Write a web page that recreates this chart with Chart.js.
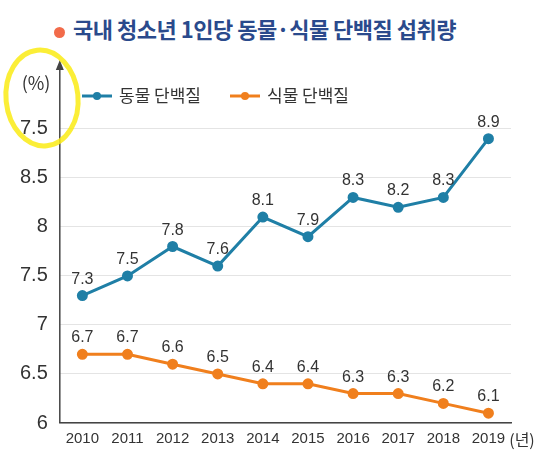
<!DOCTYPE html>
<html><head><meta charset="utf-8">
<script src="https://cdn.jsdelivr.net/npm/chart.js@4/dist/chart.umd.min.js"></script>
<style>
body{margin:0;background:#fff;font-family:"Noto Sans CJK KR",sans-serif}
#wrap{position:relative;width:547px;height:460px}
#title{position:absolute;left:54px;top:12px;font-size:22px;font-weight:bold;color:#2a4a8c;letter-spacing:-0.5px}
#title span{display:inline-block;width:11px;height:11px;border-radius:50%;background:#f26b4a;margin-right:8px;vertical-align:middle}
</style></head>
<body><div id="wrap">
<div id="title"><span></span>국내 청소년 1인당 동물·식물 단백질 섭취량</div>
<canvas id="c" width="547" height="460" style="position:absolute;left:0;top:0"></canvas>
</div>
<script>
// DATA
let years = ['2010','2011','2012','2013','2014','2015','2016','2017','2018','2019'];
let animalProtein = [7.3, 7.5, 7.8, 7.6, 8.1, 7.9, 8.3, 8.2, 8.3, 8.9];
let plantProtein = [6.7, 6.7, 6.6, 6.5, 6.4, 6.4, 6.3, 6.3, 6.2, 6.1];
let yTicks = [6, 6.5, 7, 7.5, 8, 8.5, 9];
let yTickLabels = {6:'6', 6.5:'6.5', 7:'7', 7.5:'7.5', 8:'8', 8.5:'8.5', 9:'7.5'};

let blue = '#1f7fa6', orange = '#f07f1d';

let extras = {
    id: 'extras',
    afterDraw(chart) {
        let ctx = chart.ctx;
        let ax = chart.chartArea.left;
        ctx.save();
        // axis arrow
        ctx.strokeStyle = '#444'; ctx.lineWidth = 1.5;
        ctx.beginPath(); ctx.moveTo(ax, chart.chartArea.bottom); ctx.lineTo(ax, 66); ctx.stroke();
        ctx.fillStyle = '#444';
        ctx.beginPath(); ctx.moveTo(ax, 60); ctx.lineTo(ax - 4, 70); ctx.lineTo(ax + 4, 70); ctx.fill();
        ctx.font = '18px "Noto Sans CJK KR"'; ctx.fillStyle = '#333'; ctx.textAlign = 'center';
        ctx.fillText('(%)', 36, 90);
        ctx.font = '16px "Noto Sans CJK KR"';
        ctx.fillText('(년)', 522, 446);
        // legend
        chart.data.datasets.forEach((ds, i) => {
            let lx = 82 + i * 148, ly = 96;
            ctx.strokeStyle = ds.borderColor; ctx.lineWidth = 3;
            ctx.beginPath(); ctx.moveTo(lx, ly); ctx.lineTo(lx + 30, ly); ctx.stroke();
            ctx.fillStyle = ds.borderColor;
            ctx.beginPath(); ctx.arc(lx + 15, ly, 4, 0, Math.PI * 2); ctx.fill();
            ctx.fillStyle = '#333'; ctx.textAlign = 'left'; ctx.textBaseline = 'middle';
            ctx.font = '17px "Noto Sans CJK KR"';
            ctx.fillText(ds.label, lx + 37, ly);
        });
        // value labels
        ctx.textAlign = 'center'; ctx.textBaseline = 'alphabetic';
        ctx.font = '16px "Liberation Sans Narrow", "Liberation Sans"';
        ctx.fillStyle = '#333';
        chart.data.datasets.forEach((ds, di) => {
            chart.getDatasetMeta(di).data.forEach((p, i) => {
                ctx.fillText(ds.data[i].toFixed(1), p.x, p.y - 12);
            });
        });
        // highlighter circle
        ctx.strokeStyle = 'rgba(250,235,20,0.85)'; ctx.lineWidth = 5;
        ctx.beginPath(); ctx.ellipse(42, 98, 36, 48, -0.1, 0, Math.PI * 2); ctx.stroke();
        ctx.restore();
    }
};

new Chart(document.getElementById('c').getContext('2d'), {
    type: 'line',
    data: {
        labels: years,
        datasets: [{
            label: '동물 단백질', data: animalProtein,
            borderColor: blue, backgroundColor: blue, borderWidth: 3,
            pointRadius: 4, pointHoverRadius: 4
        }, {
            label: '식물 단백질', data: plantProtein,
            borderColor: orange, backgroundColor: orange, borderWidth: 3,
            pointRadius: 4, pointHoverRadius: 4
        }]
    },
    options: {
        responsive: false, animation: false,
        layout: {padding: {top: 70, right: 36, left: 8, bottom: 10}},
        plugins: {
            legend: {display: false},
            tooltip: {enabled: false}
        },
        scales: {
            x: {
                offset: true,
                grid: {display: false, drawTicks: true, tickLength: 5},
                border: {color: '#444', width: 1.5},
                ticks: {color: '#333', font: {size: 15, family: '"Liberation Sans Narrow", "Liberation Sans"'}, padding: 2}
            },
            y: {
                min: 6, max: 9.6,
                afterBuildTicks(s) { s.ticks = yTicks.map(v => ({value: v})); },
                grid: {color: '#e4e4e4', drawTicks: false},
                border: {display: false},
                ticks: {
                    color: '#333', padding: 12,
                    font: {size: 20, family: '"Liberation Sans Narrow", "Liberation Sans"'},
                    callback: v => yTickLabels[v]
                }
            }
        }
    },
    plugins: [extras]
});
</script>
</body></html>
